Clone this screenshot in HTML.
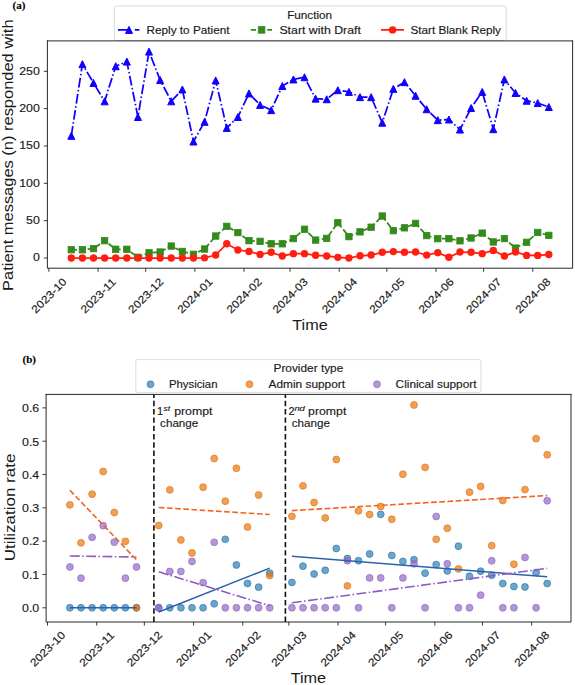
<!DOCTYPE html>
<html><head><meta charset="utf-8"><title>Utilization figure</title>
<style>
html,body{margin:0;padding:0;background:#fff;}
body{width:575px;height:685px;overflow:hidden;font-family:"Liberation Sans",sans-serif;}
svg{display:block;}
svg text{stroke:#1a1a1a;stroke-width:0.15px;}
</style></head><body>
<svg width="575" height="685" viewBox="0 0 575 685" font-family='"Liberation Sans", sans-serif' fill="#1a1a1a">
<rect width="575" height="685" fill="#fff"/>
<text x="12.6" y="8.9" font-family='"Liberation Serif", serif' font-weight="bold" font-size="11" fill="#000">(a)</text>
<text x="22.6" y="363" font-family='"Liberation Serif", serif' font-weight="bold" font-size="11" fill="#000">(b)</text>
<polyline points="71.3,258 82.41,258 93.51,258 104.61,258 115.72,258 126.83,258 137.93,258 149.03,258 160.14,258 171.25,258 182.35,258 193.45,258 204.56,257.85 215.67,255.01 226.77,243.81 237.88,250.01 248.98,251.43 260.08,254.42 271.19,252.32 282.3,255.98 293.4,253.67 304.5,253.67 315.61,255.31 326.72,255.98 337.82,257.33 348.93,258 360.03,255.76 371.14,255.01 382.24,252.32 393.35,251.58 404.45,252.32 415.56,252.03 426.66,255.09 437.77,252.7 448.87,257.25 459.98,252.03 471.08,252.32 482.19,253.67 493.29,250.53 504.4,255.98 515.5,252.03 526.61,255.39 537.71,255.39 548.82,254.56" fill="none" stroke="#ff1e10" stroke-width="1.75"/>
<polyline points="71.3,249.71 82.41,249.79 93.51,248.59 104.61,240.67 115.72,249.26 126.83,249.26 137.93,257.25 149.03,252.77 160.14,252.03 171.25,246.05 182.35,251.43 193.45,254.27 204.56,249.04 215.67,236.04 226.77,226.34 237.88,232.61 248.98,240.67 260.08,241.35 271.19,243.81 282.3,243.81 293.4,238.58 304.5,229.25 315.61,240.08 326.72,238.36 337.82,222.68 348.93,236.64 360.03,231.86 371.14,227.23 382.24,216.03 393.35,230.67 404.45,227.83 415.56,223.42 426.66,235.6 437.77,238.66 448.87,238.66 459.98,240.82 471.08,237.99 482.19,233.13 493.29,241.94 504.4,238.58 515.5,248.07 526.61,242.32 537.71,232.46 548.82,235.37" fill="none" stroke="#348a1c" stroke-width="1.75" stroke-dasharray="5.7 2.5"/>
<polyline points="71.3,135.82 82.41,64.13 93.51,82.95 104.61,101.32 115.72,66.22 126.83,61.59 137.93,117 149.03,51.58 160.14,80.04 171.25,101.32 182.35,89.45 193.45,141.5 204.56,121.78 215.67,80.41 226.77,127.91 237.88,117 248.98,93.41 260.08,104.91 271.19,110.13 282.3,86.01 293.4,79.44 304.5,77.27 315.61,98.63 326.72,99.23 337.82,90.19 348.93,91.91 360.03,97.14 371.14,97.14 382.24,122.68 393.35,88.85 404.45,82.13 415.56,95.72 426.66,109.24 437.77,120.14 448.87,119.47 459.98,129.55 471.08,108.04 482.19,91.91 493.29,129.18 504.4,79.44 515.5,92.96 526.61,100.72 537.71,103.04 548.82,107" fill="none" stroke="#1000ff" stroke-width="1.75" stroke-dasharray="9.8 2.5 1.5 2.5"/>
<polygon points="71.3,132.32 67.8,139.32 74.8,139.32" fill="#1000ff" stroke="#1000ff" stroke-width="1" stroke-linejoin="miter"/>
<polygon points="82.41,60.63 78.91,67.63 85.91,67.63" fill="#1000ff" stroke="#1000ff" stroke-width="1" stroke-linejoin="miter"/>
<polygon points="93.51,79.45 90.01,86.45 97.01,86.45" fill="#1000ff" stroke="#1000ff" stroke-width="1" stroke-linejoin="miter"/>
<polygon points="104.61,97.82 101.11,104.82 108.11,104.82" fill="#1000ff" stroke="#1000ff" stroke-width="1" stroke-linejoin="miter"/>
<polygon points="115.72,62.72 112.22,69.72 119.22,69.72" fill="#1000ff" stroke="#1000ff" stroke-width="1" stroke-linejoin="miter"/>
<polygon points="126.83,58.09 123.33,65.09 130.32,65.09" fill="#1000ff" stroke="#1000ff" stroke-width="1" stroke-linejoin="miter"/>
<polygon points="137.93,113.5 134.43,120.5 141.43,120.5" fill="#1000ff" stroke="#1000ff" stroke-width="1" stroke-linejoin="miter"/>
<polygon points="149.03,48.08 145.53,55.08 152.53,55.08" fill="#1000ff" stroke="#1000ff" stroke-width="1" stroke-linejoin="miter"/>
<polygon points="160.14,76.54 156.64,83.54 163.64,83.54" fill="#1000ff" stroke="#1000ff" stroke-width="1" stroke-linejoin="miter"/>
<polygon points="171.25,97.82 167.75,104.82 174.75,104.82" fill="#1000ff" stroke="#1000ff" stroke-width="1" stroke-linejoin="miter"/>
<polygon points="182.35,85.95 178.85,92.95 185.85,92.95" fill="#1000ff" stroke="#1000ff" stroke-width="1" stroke-linejoin="miter"/>
<polygon points="193.45,138 189.95,145 196.95,145" fill="#1000ff" stroke="#1000ff" stroke-width="1" stroke-linejoin="miter"/>
<polygon points="204.56,118.28 201.06,125.28 208.06,125.28" fill="#1000ff" stroke="#1000ff" stroke-width="1" stroke-linejoin="miter"/>
<polygon points="215.67,76.91 212.17,83.91 219.17,83.91" fill="#1000ff" stroke="#1000ff" stroke-width="1" stroke-linejoin="miter"/>
<polygon points="226.77,124.41 223.27,131.41 230.27,131.41" fill="#1000ff" stroke="#1000ff" stroke-width="1" stroke-linejoin="miter"/>
<polygon points="237.88,113.5 234.38,120.5 241.38,120.5" fill="#1000ff" stroke="#1000ff" stroke-width="1" stroke-linejoin="miter"/>
<polygon points="248.98,89.91 245.48,96.91 252.48,96.91" fill="#1000ff" stroke="#1000ff" stroke-width="1" stroke-linejoin="miter"/>
<polygon points="260.08,101.41 256.58,108.41 263.58,108.41" fill="#1000ff" stroke="#1000ff" stroke-width="1" stroke-linejoin="miter"/>
<polygon points="271.19,106.63 267.69,113.63 274.69,113.63" fill="#1000ff" stroke="#1000ff" stroke-width="1" stroke-linejoin="miter"/>
<polygon points="282.3,82.51 278.8,89.51 285.8,89.51" fill="#1000ff" stroke="#1000ff" stroke-width="1" stroke-linejoin="miter"/>
<polygon points="293.4,75.94 289.9,82.94 296.9,82.94" fill="#1000ff" stroke="#1000ff" stroke-width="1" stroke-linejoin="miter"/>
<polygon points="304.5,73.77 301,80.77 308,80.77" fill="#1000ff" stroke="#1000ff" stroke-width="1" stroke-linejoin="miter"/>
<polygon points="315.61,95.13 312.11,102.13 319.11,102.13" fill="#1000ff" stroke="#1000ff" stroke-width="1" stroke-linejoin="miter"/>
<polygon points="326.72,95.73 323.22,102.73 330.22,102.73" fill="#1000ff" stroke="#1000ff" stroke-width="1" stroke-linejoin="miter"/>
<polygon points="337.82,86.69 334.32,93.69 341.32,93.69" fill="#1000ff" stroke="#1000ff" stroke-width="1" stroke-linejoin="miter"/>
<polygon points="348.93,88.41 345.43,95.41 352.43,95.41" fill="#1000ff" stroke="#1000ff" stroke-width="1" stroke-linejoin="miter"/>
<polygon points="360.03,93.64 356.53,100.64 363.53,100.64" fill="#1000ff" stroke="#1000ff" stroke-width="1" stroke-linejoin="miter"/>
<polygon points="371.14,93.64 367.64,100.64 374.64,100.64" fill="#1000ff" stroke="#1000ff" stroke-width="1" stroke-linejoin="miter"/>
<polygon points="382.24,119.18 378.74,126.18 385.74,126.18" fill="#1000ff" stroke="#1000ff" stroke-width="1" stroke-linejoin="miter"/>
<polygon points="393.35,85.35 389.85,92.35 396.85,92.35" fill="#1000ff" stroke="#1000ff" stroke-width="1" stroke-linejoin="miter"/>
<polygon points="404.45,78.63 400.95,85.63 407.95,85.63" fill="#1000ff" stroke="#1000ff" stroke-width="1" stroke-linejoin="miter"/>
<polygon points="415.56,92.22 412.06,99.22 419.06,99.22" fill="#1000ff" stroke="#1000ff" stroke-width="1" stroke-linejoin="miter"/>
<polygon points="426.66,105.74 423.16,112.74 430.16,112.74" fill="#1000ff" stroke="#1000ff" stroke-width="1" stroke-linejoin="miter"/>
<polygon points="437.77,116.64 434.27,123.64 441.27,123.64" fill="#1000ff" stroke="#1000ff" stroke-width="1" stroke-linejoin="miter"/>
<polygon points="448.87,115.97 445.37,122.97 452.37,122.97" fill="#1000ff" stroke="#1000ff" stroke-width="1" stroke-linejoin="miter"/>
<polygon points="459.98,126.05 456.48,133.05 463.48,133.05" fill="#1000ff" stroke="#1000ff" stroke-width="1" stroke-linejoin="miter"/>
<polygon points="471.08,104.54 467.58,111.54 474.58,111.54" fill="#1000ff" stroke="#1000ff" stroke-width="1" stroke-linejoin="miter"/>
<polygon points="482.19,88.41 478.69,95.41 485.69,95.41" fill="#1000ff" stroke="#1000ff" stroke-width="1" stroke-linejoin="miter"/>
<polygon points="493.29,125.68 489.79,132.68 496.79,132.68" fill="#1000ff" stroke="#1000ff" stroke-width="1" stroke-linejoin="miter"/>
<polygon points="504.4,75.94 500.9,82.94 507.9,82.94" fill="#1000ff" stroke="#1000ff" stroke-width="1" stroke-linejoin="miter"/>
<polygon points="515.5,89.46 512,96.46 519,96.46" fill="#1000ff" stroke="#1000ff" stroke-width="1" stroke-linejoin="miter"/>
<polygon points="526.61,97.22 523.11,104.22 530.11,104.22" fill="#1000ff" stroke="#1000ff" stroke-width="1" stroke-linejoin="miter"/>
<polygon points="537.71,99.54 534.21,106.54 541.21,106.54" fill="#1000ff" stroke="#1000ff" stroke-width="1" stroke-linejoin="miter"/>
<polygon points="548.82,103.5 545.32,110.5 552.32,110.5" fill="#1000ff" stroke="#1000ff" stroke-width="1" stroke-linejoin="miter"/>
<rect x="68.1" y="246.51" width="6.4" height="6.4" fill="#348a1c" stroke="#348a1c" stroke-width="0.8"/>
<rect x="79.2" y="246.59" width="6.4" height="6.4" fill="#348a1c" stroke="#348a1c" stroke-width="0.8"/>
<rect x="90.31" y="245.39" width="6.4" height="6.4" fill="#348a1c" stroke="#348a1c" stroke-width="0.8"/>
<rect x="101.41" y="237.47" width="6.4" height="6.4" fill="#348a1c" stroke="#348a1c" stroke-width="0.8"/>
<rect x="112.52" y="246.06" width="6.4" height="6.4" fill="#348a1c" stroke="#348a1c" stroke-width="0.8"/>
<rect x="123.62" y="246.06" width="6.4" height="6.4" fill="#348a1c" stroke="#348a1c" stroke-width="0.8"/>
<rect x="134.73" y="254.05" width="6.4" height="6.4" fill="#348a1c" stroke="#348a1c" stroke-width="0.8"/>
<rect x="145.84" y="249.57" width="6.4" height="6.4" fill="#348a1c" stroke="#348a1c" stroke-width="0.8"/>
<rect x="156.94" y="248.83" width="6.4" height="6.4" fill="#348a1c" stroke="#348a1c" stroke-width="0.8"/>
<rect x="168.05" y="242.85" width="6.4" height="6.4" fill="#348a1c" stroke="#348a1c" stroke-width="0.8"/>
<rect x="179.15" y="248.23" width="6.4" height="6.4" fill="#348a1c" stroke="#348a1c" stroke-width="0.8"/>
<rect x="190.25" y="251.07" width="6.4" height="6.4" fill="#348a1c" stroke="#348a1c" stroke-width="0.8"/>
<rect x="201.36" y="245.84" width="6.4" height="6.4" fill="#348a1c" stroke="#348a1c" stroke-width="0.8"/>
<rect x="212.47" y="232.84" width="6.4" height="6.4" fill="#348a1c" stroke="#348a1c" stroke-width="0.8"/>
<rect x="223.57" y="223.14" width="6.4" height="6.4" fill="#348a1c" stroke="#348a1c" stroke-width="0.8"/>
<rect x="234.68" y="229.41" width="6.4" height="6.4" fill="#348a1c" stroke="#348a1c" stroke-width="0.8"/>
<rect x="245.78" y="237.47" width="6.4" height="6.4" fill="#348a1c" stroke="#348a1c" stroke-width="0.8"/>
<rect x="256.88" y="238.15" width="6.4" height="6.4" fill="#348a1c" stroke="#348a1c" stroke-width="0.8"/>
<rect x="267.99" y="240.61" width="6.4" height="6.4" fill="#348a1c" stroke="#348a1c" stroke-width="0.8"/>
<rect x="279.1" y="240.61" width="6.4" height="6.4" fill="#348a1c" stroke="#348a1c" stroke-width="0.8"/>
<rect x="290.2" y="235.38" width="6.4" height="6.4" fill="#348a1c" stroke="#348a1c" stroke-width="0.8"/>
<rect x="301.31" y="226.05" width="6.4" height="6.4" fill="#348a1c" stroke="#348a1c" stroke-width="0.8"/>
<rect x="312.41" y="236.88" width="6.4" height="6.4" fill="#348a1c" stroke="#348a1c" stroke-width="0.8"/>
<rect x="323.52" y="235.16" width="6.4" height="6.4" fill="#348a1c" stroke="#348a1c" stroke-width="0.8"/>
<rect x="334.62" y="219.48" width="6.4" height="6.4" fill="#348a1c" stroke="#348a1c" stroke-width="0.8"/>
<rect x="345.73" y="233.44" width="6.4" height="6.4" fill="#348a1c" stroke="#348a1c" stroke-width="0.8"/>
<rect x="356.83" y="228.66" width="6.4" height="6.4" fill="#348a1c" stroke="#348a1c" stroke-width="0.8"/>
<rect x="367.94" y="224.03" width="6.4" height="6.4" fill="#348a1c" stroke="#348a1c" stroke-width="0.8"/>
<rect x="379.04" y="212.83" width="6.4" height="6.4" fill="#348a1c" stroke="#348a1c" stroke-width="0.8"/>
<rect x="390.15" y="227.47" width="6.4" height="6.4" fill="#348a1c" stroke="#348a1c" stroke-width="0.8"/>
<rect x="401.25" y="224.63" width="6.4" height="6.4" fill="#348a1c" stroke="#348a1c" stroke-width="0.8"/>
<rect x="412.36" y="220.22" width="6.4" height="6.4" fill="#348a1c" stroke="#348a1c" stroke-width="0.8"/>
<rect x="423.46" y="232.4" width="6.4" height="6.4" fill="#348a1c" stroke="#348a1c" stroke-width="0.8"/>
<rect x="434.57" y="235.46" width="6.4" height="6.4" fill="#348a1c" stroke="#348a1c" stroke-width="0.8"/>
<rect x="445.67" y="235.46" width="6.4" height="6.4" fill="#348a1c" stroke="#348a1c" stroke-width="0.8"/>
<rect x="456.78" y="237.62" width="6.4" height="6.4" fill="#348a1c" stroke="#348a1c" stroke-width="0.8"/>
<rect x="467.88" y="234.79" width="6.4" height="6.4" fill="#348a1c" stroke="#348a1c" stroke-width="0.8"/>
<rect x="478.99" y="229.93" width="6.4" height="6.4" fill="#348a1c" stroke="#348a1c" stroke-width="0.8"/>
<rect x="490.09" y="238.74" width="6.4" height="6.4" fill="#348a1c" stroke="#348a1c" stroke-width="0.8"/>
<rect x="501.2" y="235.38" width="6.4" height="6.4" fill="#348a1c" stroke="#348a1c" stroke-width="0.8"/>
<rect x="512.3" y="244.87" width="6.4" height="6.4" fill="#348a1c" stroke="#348a1c" stroke-width="0.8"/>
<rect x="523.4" y="239.12" width="6.4" height="6.4" fill="#348a1c" stroke="#348a1c" stroke-width="0.8"/>
<rect x="534.51" y="229.26" width="6.4" height="6.4" fill="#348a1c" stroke="#348a1c" stroke-width="0.8"/>
<rect x="545.62" y="232.17" width="6.4" height="6.4" fill="#348a1c" stroke="#348a1c" stroke-width="0.8"/>
<circle cx="71.3" cy="258" r="3.7" fill="#ff1e10"/>
<circle cx="82.41" cy="258" r="3.7" fill="#ff1e10"/>
<circle cx="93.51" cy="258" r="3.7" fill="#ff1e10"/>
<circle cx="104.61" cy="258" r="3.7" fill="#ff1e10"/>
<circle cx="115.72" cy="258" r="3.7" fill="#ff1e10"/>
<circle cx="126.83" cy="258" r="3.7" fill="#ff1e10"/>
<circle cx="137.93" cy="258" r="3.7" fill="#ff1e10"/>
<circle cx="149.03" cy="258" r="3.7" fill="#ff1e10"/>
<circle cx="160.14" cy="258" r="3.7" fill="#ff1e10"/>
<circle cx="171.25" cy="258" r="3.7" fill="#ff1e10"/>
<circle cx="182.35" cy="258" r="3.7" fill="#ff1e10"/>
<circle cx="193.45" cy="258" r="3.7" fill="#ff1e10"/>
<circle cx="204.56" cy="257.85" r="3.7" fill="#ff1e10"/>
<circle cx="215.67" cy="255.01" r="3.7" fill="#ff1e10"/>
<circle cx="226.77" cy="243.81" r="3.7" fill="#ff1e10"/>
<circle cx="237.88" cy="250.01" r="3.7" fill="#ff1e10"/>
<circle cx="248.98" cy="251.43" r="3.7" fill="#ff1e10"/>
<circle cx="260.08" cy="254.42" r="3.7" fill="#ff1e10"/>
<circle cx="271.19" cy="252.32" r="3.7" fill="#ff1e10"/>
<circle cx="282.3" cy="255.98" r="3.7" fill="#ff1e10"/>
<circle cx="293.4" cy="253.67" r="3.7" fill="#ff1e10"/>
<circle cx="304.5" cy="253.67" r="3.7" fill="#ff1e10"/>
<circle cx="315.61" cy="255.31" r="3.7" fill="#ff1e10"/>
<circle cx="326.72" cy="255.98" r="3.7" fill="#ff1e10"/>
<circle cx="337.82" cy="257.33" r="3.7" fill="#ff1e10"/>
<circle cx="348.93" cy="258" r="3.7" fill="#ff1e10"/>
<circle cx="360.03" cy="255.76" r="3.7" fill="#ff1e10"/>
<circle cx="371.14" cy="255.01" r="3.7" fill="#ff1e10"/>
<circle cx="382.24" cy="252.32" r="3.7" fill="#ff1e10"/>
<circle cx="393.35" cy="251.58" r="3.7" fill="#ff1e10"/>
<circle cx="404.45" cy="252.32" r="3.7" fill="#ff1e10"/>
<circle cx="415.56" cy="252.03" r="3.7" fill="#ff1e10"/>
<circle cx="426.66" cy="255.09" r="3.7" fill="#ff1e10"/>
<circle cx="437.77" cy="252.7" r="3.7" fill="#ff1e10"/>
<circle cx="448.87" cy="257.25" r="3.7" fill="#ff1e10"/>
<circle cx="459.98" cy="252.03" r="3.7" fill="#ff1e10"/>
<circle cx="471.08" cy="252.32" r="3.7" fill="#ff1e10"/>
<circle cx="482.19" cy="253.67" r="3.7" fill="#ff1e10"/>
<circle cx="493.29" cy="250.53" r="3.7" fill="#ff1e10"/>
<circle cx="504.4" cy="255.98" r="3.7" fill="#ff1e10"/>
<circle cx="515.5" cy="252.03" r="3.7" fill="#ff1e10"/>
<circle cx="526.61" cy="255.39" r="3.7" fill="#ff1e10"/>
<circle cx="537.71" cy="255.39" r="3.7" fill="#ff1e10"/>
<circle cx="548.82" cy="254.56" r="3.7" fill="#ff1e10"/>
<polyline points="47.4,40.45 47.4,268.2 572.6,268.2 572.6,40.45" fill="none" stroke="#111" stroke-width="0.9" stroke-linejoin="miter"/>
<line x1="43.8" y1="258" x2="47.4" y2="258" stroke="#222" stroke-width="0.9"/>
<text x="39.8" y="261.4" text-anchor="end" font-size="11" textLength="6.87" lengthAdjust="spacingAndGlyphs">0</text>
<line x1="43.8" y1="220.66" x2="47.4" y2="220.66" stroke="#222" stroke-width="0.9"/>
<text x="39.8" y="224.06" text-anchor="end" font-size="11" textLength="13.74" lengthAdjust="spacingAndGlyphs">50</text>
<line x1="43.8" y1="183.32" x2="47.4" y2="183.32" stroke="#222" stroke-width="0.9"/>
<text x="39.8" y="186.72" text-anchor="end" font-size="11" textLength="20.61" lengthAdjust="spacingAndGlyphs">100</text>
<line x1="43.8" y1="145.98" x2="47.4" y2="145.98" stroke="#222" stroke-width="0.9"/>
<text x="39.8" y="149.38" text-anchor="end" font-size="11" textLength="20.61" lengthAdjust="spacingAndGlyphs">150</text>
<line x1="43.8" y1="108.64" x2="47.4" y2="108.64" stroke="#222" stroke-width="0.9"/>
<text x="39.8" y="112.04" text-anchor="end" font-size="11" textLength="20.61" lengthAdjust="spacingAndGlyphs">200</text>
<line x1="43.8" y1="71.3" x2="47.4" y2="71.3" stroke="#222" stroke-width="0.9"/>
<text x="39.8" y="74.7" text-anchor="end" font-size="11" textLength="20.61" lengthAdjust="spacingAndGlyphs">250</text>
<line x1="48.9" y1="268.2" x2="48.9" y2="271.8" stroke="#222" stroke-width="0.9"/>
<text x="48.9" y="299.45" text-anchor="middle" font-size="10.7" textLength="44.6" lengthAdjust="spacingAndGlyphs" transform="rotate(-45 48.9 295.6)">2023-10</text>
<line x1="98.08" y1="268.2" x2="98.08" y2="271.8" stroke="#222" stroke-width="0.9"/>
<text x="98.08" y="299.45" text-anchor="middle" font-size="10.7" textLength="44.6" lengthAdjust="spacingAndGlyphs" transform="rotate(-45 98.08 295.6)">2023-11</text>
<line x1="145.68" y1="268.2" x2="145.68" y2="271.8" stroke="#222" stroke-width="0.9"/>
<text x="145.68" y="299.45" text-anchor="middle" font-size="10.7" textLength="44.6" lengthAdjust="spacingAndGlyphs" transform="rotate(-45 145.68 295.6)">2023-12</text>
<line x1="194.86" y1="268.2" x2="194.86" y2="271.8" stroke="#222" stroke-width="0.9"/>
<text x="194.86" y="299.45" text-anchor="middle" font-size="10.7" textLength="44.6" lengthAdjust="spacingAndGlyphs" transform="rotate(-45 194.86 295.6)">2024-01</text>
<line x1="244.04" y1="268.2" x2="244.04" y2="271.8" stroke="#222" stroke-width="0.9"/>
<text x="244.04" y="299.45" text-anchor="middle" font-size="10.7" textLength="44.6" lengthAdjust="spacingAndGlyphs" transform="rotate(-45 244.04 295.6)">2024-02</text>
<line x1="290.05" y1="268.2" x2="290.05" y2="271.8" stroke="#222" stroke-width="0.9"/>
<text x="290.05" y="299.45" text-anchor="middle" font-size="10.7" textLength="44.6" lengthAdjust="spacingAndGlyphs" transform="rotate(-45 290.05 295.6)">2024-03</text>
<line x1="339.23" y1="268.2" x2="339.23" y2="271.8" stroke="#222" stroke-width="0.9"/>
<text x="339.23" y="299.45" text-anchor="middle" font-size="10.7" textLength="44.6" lengthAdjust="spacingAndGlyphs" transform="rotate(-45 339.23 295.6)">2024-04</text>
<line x1="386.82" y1="268.2" x2="386.82" y2="271.8" stroke="#222" stroke-width="0.9"/>
<text x="386.82" y="299.45" text-anchor="middle" font-size="10.7" textLength="44.6" lengthAdjust="spacingAndGlyphs" transform="rotate(-45 386.82 295.6)">2024-05</text>
<line x1="436.01" y1="268.2" x2="436.01" y2="271.8" stroke="#222" stroke-width="0.9"/>
<text x="436.01" y="299.45" text-anchor="middle" font-size="10.7" textLength="44.6" lengthAdjust="spacingAndGlyphs" transform="rotate(-45 436.01 295.6)">2024-06</text>
<line x1="483.6" y1="268.2" x2="483.6" y2="271.8" stroke="#222" stroke-width="0.9"/>
<text x="483.6" y="299.45" text-anchor="middle" font-size="10.7" textLength="44.6" lengthAdjust="spacingAndGlyphs" transform="rotate(-45 483.6 295.6)">2024-07</text>
<line x1="532.78" y1="268.2" x2="532.78" y2="271.8" stroke="#222" stroke-width="0.9"/>
<text x="532.78" y="299.45" text-anchor="middle" font-size="10.7" textLength="44.6" lengthAdjust="spacingAndGlyphs" transform="rotate(-45 532.78 295.6)">2024-08</text>
<text x="310" y="329.5" text-anchor="middle" style="stroke:none" font-size="14.6" textLength="35.5" lengthAdjust="spacingAndGlyphs">Time</text>
<text transform="translate(12.9 155.2) rotate(-90)" text-anchor="middle" style="stroke:none" font-size="15.2" textLength="271.5" lengthAdjust="spacingAndGlyphs">Patient messages (n) responded with</text>
<rect x="114.3" y="6.0" width="391.9" height="34.4" rx="1.5" fill="#fff" fill-opacity="0.8" stroke="#d6d6d6" stroke-width="0.9"/>
<text x="309.6" y="18.6" text-anchor="middle" font-size="10.4" textLength="44.8" lengthAdjust="spacingAndGlyphs">Function</text>
<line x1="118" y1="29.9" x2="128.5" y2="29.9" stroke="#1000ff" stroke-width="1.75"/>
<line x1="134.8" y1="29.9" x2="139.4" y2="29.9" stroke="#1000ff" stroke-width="1.75"/>
<polygon points="129,26.4 125.5,33.4 132.5,33.4" fill="#1000ff" stroke="#1000ff" stroke-width="1"/>
<text x="146.4" y="34" font-size="10.4" textLength="83.2" lengthAdjust="spacingAndGlyphs">Reply to Patient</text>
<line x1="250.8" y1="29.9" x2="256" y2="29.9" stroke="#348a1c" stroke-width="1.75"/>
<line x1="267.2" y1="29.9" x2="272" y2="29.9" stroke="#348a1c" stroke-width="1.75"/>
<rect x="258.3" y="26.6" width="6.6" height="6.6" fill="#348a1c" stroke="#348a1c" stroke-width="0.8"/>
<text x="279.4" y="34" font-size="10.4" textLength="81.5" lengthAdjust="spacingAndGlyphs">Start with Draft</text>
<line x1="381" y1="29.9" x2="404" y2="29.9" stroke="#ff1e10" stroke-width="1.75"/>
<circle cx="392.6" cy="29.9" r="3.7" fill="#ff1e10"/>
<text x="410.4" y="34" font-size="10.4" textLength="90.6" lengthAdjust="spacingAndGlyphs">Start Blank Reply</text>
<line x1="46.95" y1="40.9" x2="573.05" y2="40.9" stroke="#111" stroke-width="0.9"/>
<line x1="153.9" y1="622" x2="153.9" y2="394.4" stroke="#111" stroke-width="1.6" stroke-dasharray="5.4 2.9"/>
<line x1="285.4" y1="622" x2="285.4" y2="394.4" stroke="#111" stroke-width="1.6" stroke-dasharray="5.4 2.9"/>
<circle cx="69.9" cy="607.8" r="3.45" fill="#307eb0" fill-opacity="0.7" stroke="#307eb0" stroke-opacity="0.7" stroke-width="1"/>
<circle cx="81" cy="607.8" r="3.45" fill="#307eb0" fill-opacity="0.7" stroke="#307eb0" stroke-opacity="0.7" stroke-width="1"/>
<circle cx="92.1" cy="607.8" r="3.45" fill="#307eb0" fill-opacity="0.7" stroke="#307eb0" stroke-opacity="0.7" stroke-width="1"/>
<circle cx="103.2" cy="607.8" r="3.45" fill="#307eb0" fill-opacity="0.7" stroke="#307eb0" stroke-opacity="0.7" stroke-width="1"/>
<circle cx="114.3" cy="607.8" r="3.45" fill="#307eb0" fill-opacity="0.7" stroke="#307eb0" stroke-opacity="0.7" stroke-width="1"/>
<circle cx="125.4" cy="607.8" r="3.45" fill="#307eb0" fill-opacity="0.7" stroke="#307eb0" stroke-opacity="0.7" stroke-width="1"/>
<circle cx="136.5" cy="607.8" r="3.45" fill="#307eb0" fill-opacity="0.7" stroke="#307eb0" stroke-opacity="0.7" stroke-width="1"/>
<circle cx="158.7" cy="607.8" r="3.45" fill="#307eb0" fill-opacity="0.7" stroke="#307eb0" stroke-opacity="0.7" stroke-width="1"/>
<circle cx="169.8" cy="607.8" r="3.45" fill="#307eb0" fill-opacity="0.7" stroke="#307eb0" stroke-opacity="0.7" stroke-width="1"/>
<circle cx="180.9" cy="607.8" r="3.45" fill="#307eb0" fill-opacity="0.7" stroke="#307eb0" stroke-opacity="0.7" stroke-width="1"/>
<circle cx="192" cy="607.8" r="3.45" fill="#307eb0" fill-opacity="0.7" stroke="#307eb0" stroke-opacity="0.7" stroke-width="1"/>
<circle cx="203.1" cy="607.8" r="3.45" fill="#307eb0" fill-opacity="0.7" stroke="#307eb0" stroke-opacity="0.7" stroke-width="1"/>
<circle cx="214.2" cy="603.8" r="3.45" fill="#307eb0" fill-opacity="0.7" stroke="#307eb0" stroke-opacity="0.7" stroke-width="1"/>
<circle cx="225.3" cy="539.33" r="3.45" fill="#307eb0" fill-opacity="0.7" stroke="#307eb0" stroke-opacity="0.7" stroke-width="1"/>
<circle cx="236.4" cy="564.98" r="3.45" fill="#307eb0" fill-opacity="0.7" stroke="#307eb0" stroke-opacity="0.7" stroke-width="1"/>
<circle cx="247.5" cy="583.48" r="3.45" fill="#307eb0" fill-opacity="0.7" stroke="#307eb0" stroke-opacity="0.7" stroke-width="1"/>
<circle cx="258.6" cy="587.14" r="3.45" fill="#307eb0" fill-opacity="0.7" stroke="#307eb0" stroke-opacity="0.7" stroke-width="1"/>
<circle cx="269.7" cy="573.15" r="3.45" fill="#307eb0" fill-opacity="0.7" stroke="#307eb0" stroke-opacity="0.7" stroke-width="1"/>
<circle cx="291.9" cy="582.44" r="3.45" fill="#307eb0" fill-opacity="0.7" stroke="#307eb0" stroke-opacity="0.7" stroke-width="1"/>
<circle cx="303" cy="566.15" r="3.45" fill="#307eb0" fill-opacity="0.7" stroke="#307eb0" stroke-opacity="0.7" stroke-width="1"/>
<circle cx="314.1" cy="574.01" r="3.45" fill="#307eb0" fill-opacity="0.7" stroke="#307eb0" stroke-opacity="0.7" stroke-width="1"/>
<circle cx="325.2" cy="570.31" r="3.45" fill="#307eb0" fill-opacity="0.7" stroke="#307eb0" stroke-opacity="0.7" stroke-width="1"/>
<circle cx="336.3" cy="548.49" r="3.45" fill="#307eb0" fill-opacity="0.7" stroke="#307eb0" stroke-opacity="0.7" stroke-width="1"/>
<circle cx="347.4" cy="558.55" r="3.45" fill="#307eb0" fill-opacity="0.7" stroke="#307eb0" stroke-opacity="0.7" stroke-width="1"/>
<circle cx="358.5" cy="560.69" r="3.45" fill="#307eb0" fill-opacity="0.7" stroke="#307eb0" stroke-opacity="0.7" stroke-width="1"/>
<circle cx="369.6" cy="553.95" r="3.45" fill="#307eb0" fill-opacity="0.7" stroke="#307eb0" stroke-opacity="0.7" stroke-width="1"/>
<circle cx="380.7" cy="514.34" r="3.45" fill="#307eb0" fill-opacity="0.7" stroke="#307eb0" stroke-opacity="0.7" stroke-width="1"/>
<circle cx="391.8" cy="555.49" r="3.45" fill="#307eb0" fill-opacity="0.7" stroke="#307eb0" stroke-opacity="0.7" stroke-width="1"/>
<circle cx="402.9" cy="561.49" r="3.45" fill="#307eb0" fill-opacity="0.7" stroke="#307eb0" stroke-opacity="0.7" stroke-width="1"/>
<circle cx="414" cy="559.69" r="3.45" fill="#307eb0" fill-opacity="0.7" stroke="#307eb0" stroke-opacity="0.7" stroke-width="1"/>
<circle cx="425.1" cy="573.15" r="3.45" fill="#307eb0" fill-opacity="0.7" stroke="#307eb0" stroke-opacity="0.7" stroke-width="1"/>
<circle cx="436.2" cy="564.58" r="3.45" fill="#307eb0" fill-opacity="0.7" stroke="#307eb0" stroke-opacity="0.7" stroke-width="1"/>
<circle cx="447.3" cy="570.91" r="3.45" fill="#307eb0" fill-opacity="0.7" stroke="#307eb0" stroke-opacity="0.7" stroke-width="1"/>
<circle cx="458.4" cy="546.22" r="3.45" fill="#307eb0" fill-opacity="0.7" stroke="#307eb0" stroke-opacity="0.7" stroke-width="1"/>
<circle cx="469.5" cy="576.31" r="3.45" fill="#307eb0" fill-opacity="0.7" stroke="#307eb0" stroke-opacity="0.7" stroke-width="1"/>
<circle cx="480.6" cy="571.21" r="3.45" fill="#307eb0" fill-opacity="0.7" stroke="#307eb0" stroke-opacity="0.7" stroke-width="1"/>
<circle cx="491.7" cy="575.21" r="3.45" fill="#307eb0" fill-opacity="0.7" stroke="#307eb0" stroke-opacity="0.7" stroke-width="1"/>
<circle cx="502.8" cy="583.54" r="3.45" fill="#307eb0" fill-opacity="0.7" stroke="#307eb0" stroke-opacity="0.7" stroke-width="1"/>
<circle cx="513.9" cy="586.54" r="3.45" fill="#307eb0" fill-opacity="0.7" stroke="#307eb0" stroke-opacity="0.7" stroke-width="1"/>
<circle cx="525" cy="586.94" r="3.45" fill="#307eb0" fill-opacity="0.7" stroke="#307eb0" stroke-opacity="0.7" stroke-width="1"/>
<circle cx="536.1" cy="572.61" r="3.45" fill="#307eb0" fill-opacity="0.7" stroke="#307eb0" stroke-opacity="0.7" stroke-width="1"/>
<circle cx="547.2" cy="583.54" r="3.45" fill="#307eb0" fill-opacity="0.7" stroke="#307eb0" stroke-opacity="0.7" stroke-width="1"/>
<circle cx="69.9" cy="504.84" r="3.45" fill="#e57710" fill-opacity="0.7" stroke="#e57710" stroke-opacity="0.7" stroke-width="1"/>
<circle cx="81" cy="542.83" r="3.45" fill="#e57710" fill-opacity="0.7" stroke="#e57710" stroke-opacity="0.7" stroke-width="1"/>
<circle cx="92.1" cy="494.18" r="3.45" fill="#e57710" fill-opacity="0.7" stroke="#e57710" stroke-opacity="0.7" stroke-width="1"/>
<circle cx="103.2" cy="471.52" r="3.45" fill="#e57710" fill-opacity="0.7" stroke="#e57710" stroke-opacity="0.7" stroke-width="1"/>
<circle cx="114.3" cy="512.5" r="3.45" fill="#e57710" fill-opacity="0.7" stroke="#e57710" stroke-opacity="0.7" stroke-width="1"/>
<circle cx="125.4" cy="541.33" r="3.45" fill="#e57710" fill-opacity="0.7" stroke="#e57710" stroke-opacity="0.7" stroke-width="1"/>
<circle cx="136.5" cy="607.8" r="3.45" fill="#e57710" fill-opacity="0.7" stroke="#e57710" stroke-opacity="0.7" stroke-width="1"/>
<circle cx="158.7" cy="525.5" r="3.45" fill="#e57710" fill-opacity="0.7" stroke="#e57710" stroke-opacity="0.7" stroke-width="1"/>
<circle cx="169.8" cy="489.85" r="3.45" fill="#e57710" fill-opacity="0.7" stroke="#e57710" stroke-opacity="0.7" stroke-width="1"/>
<circle cx="180.9" cy="539.93" r="3.45" fill="#e57710" fill-opacity="0.7" stroke="#e57710" stroke-opacity="0.7" stroke-width="1"/>
<circle cx="192" cy="552.96" r="3.45" fill="#e57710" fill-opacity="0.7" stroke="#e57710" stroke-opacity="0.7" stroke-width="1"/>
<circle cx="203.1" cy="487.18" r="3.45" fill="#e57710" fill-opacity="0.7" stroke="#e57710" stroke-opacity="0.7" stroke-width="1"/>
<circle cx="214.2" cy="458.53" r="3.45" fill="#e57710" fill-opacity="0.7" stroke="#e57710" stroke-opacity="0.7" stroke-width="1"/>
<circle cx="225.3" cy="501.18" r="3.45" fill="#e57710" fill-opacity="0.7" stroke="#e57710" stroke-opacity="0.7" stroke-width="1"/>
<circle cx="236.4" cy="468.32" r="3.45" fill="#e57710" fill-opacity="0.7" stroke="#e57710" stroke-opacity="0.7" stroke-width="1"/>
<circle cx="247.5" cy="527.07" r="3.45" fill="#e57710" fill-opacity="0.7" stroke="#e57710" stroke-opacity="0.7" stroke-width="1"/>
<circle cx="258.6" cy="494.98" r="3.45" fill="#e57710" fill-opacity="0.7" stroke="#e57710" stroke-opacity="0.7" stroke-width="1"/>
<circle cx="269.7" cy="575.61" r="3.45" fill="#e57710" fill-opacity="0.7" stroke="#e57710" stroke-opacity="0.7" stroke-width="1"/>
<circle cx="291.9" cy="516.34" r="3.45" fill="#e57710" fill-opacity="0.7" stroke="#e57710" stroke-opacity="0.7" stroke-width="1"/>
<circle cx="303" cy="485.85" r="3.45" fill="#e57710" fill-opacity="0.7" stroke="#e57710" stroke-opacity="0.7" stroke-width="1"/>
<circle cx="314.1" cy="502.51" r="3.45" fill="#e57710" fill-opacity="0.7" stroke="#e57710" stroke-opacity="0.7" stroke-width="1"/>
<circle cx="325.2" cy="517.94" r="3.45" fill="#e57710" fill-opacity="0.7" stroke="#e57710" stroke-opacity="0.7" stroke-width="1"/>
<circle cx="336.3" cy="459.53" r="3.45" fill="#e57710" fill-opacity="0.7" stroke="#e57710" stroke-opacity="0.7" stroke-width="1"/>
<circle cx="347.4" cy="585.84" r="3.45" fill="#e57710" fill-opacity="0.7" stroke="#e57710" stroke-opacity="0.7" stroke-width="1"/>
<circle cx="358.5" cy="510.84" r="3.45" fill="#e57710" fill-opacity="0.7" stroke="#e57710" stroke-opacity="0.7" stroke-width="1"/>
<circle cx="369.6" cy="514.5" r="3.45" fill="#e57710" fill-opacity="0.7" stroke="#e57710" stroke-opacity="0.7" stroke-width="1"/>
<circle cx="380.7" cy="506.51" r="3.45" fill="#e57710" fill-opacity="0.7" stroke="#e57710" stroke-opacity="0.7" stroke-width="1"/>
<circle cx="391.8" cy="519.27" r="3.45" fill="#e57710" fill-opacity="0.7" stroke="#e57710" stroke-opacity="0.7" stroke-width="1"/>
<circle cx="402.9" cy="474.25" r="3.45" fill="#e57710" fill-opacity="0.7" stroke="#e57710" stroke-opacity="0.7" stroke-width="1"/>
<circle cx="414" cy="405.01" r="3.45" fill="#e57710" fill-opacity="0.7" stroke="#e57710" stroke-opacity="0.7" stroke-width="1"/>
<circle cx="425.1" cy="467.42" r="3.45" fill="#e57710" fill-opacity="0.7" stroke="#e57710" stroke-opacity="0.7" stroke-width="1"/>
<circle cx="436.2" cy="539.33" r="3.45" fill="#e57710" fill-opacity="0.7" stroke="#e57710" stroke-opacity="0.7" stroke-width="1"/>
<circle cx="447.3" cy="528.3" r="3.45" fill="#e57710" fill-opacity="0.7" stroke="#e57710" stroke-opacity="0.7" stroke-width="1"/>
<circle cx="458.4" cy="568.92" r="3.45" fill="#e57710" fill-opacity="0.7" stroke="#e57710" stroke-opacity="0.7" stroke-width="1"/>
<circle cx="469.5" cy="492.18" r="3.45" fill="#e57710" fill-opacity="0.7" stroke="#e57710" stroke-opacity="0.7" stroke-width="1"/>
<circle cx="480.6" cy="486.38" r="3.45" fill="#e57710" fill-opacity="0.7" stroke="#e57710" stroke-opacity="0.7" stroke-width="1"/>
<circle cx="491.7" cy="545.62" r="3.45" fill="#e57710" fill-opacity="0.7" stroke="#e57710" stroke-opacity="0.7" stroke-width="1"/>
<circle cx="502.8" cy="500.51" r="3.45" fill="#e57710" fill-opacity="0.7" stroke="#e57710" stroke-opacity="0.7" stroke-width="1"/>
<circle cx="513.9" cy="564.28" r="3.45" fill="#e57710" fill-opacity="0.7" stroke="#e57710" stroke-opacity="0.7" stroke-width="1"/>
<circle cx="525" cy="489.58" r="3.45" fill="#e57710" fill-opacity="0.7" stroke="#e57710" stroke-opacity="0.7" stroke-width="1"/>
<circle cx="536.1" cy="438.63" r="3.45" fill="#e57710" fill-opacity="0.7" stroke="#e57710" stroke-opacity="0.7" stroke-width="1"/>
<circle cx="547.2" cy="454.79" r="3.45" fill="#e57710" fill-opacity="0.7" stroke="#e57710" stroke-opacity="0.7" stroke-width="1"/>
<circle cx="69.9" cy="566.98" r="3.45" fill="#9169c4" fill-opacity="0.7" stroke="#9169c4" stroke-opacity="0.7" stroke-width="1"/>
<circle cx="81" cy="578.15" r="3.45" fill="#9169c4" fill-opacity="0.7" stroke="#9169c4" stroke-opacity="0.7" stroke-width="1"/>
<circle cx="92.1" cy="537.33" r="3.45" fill="#9169c4" fill-opacity="0.7" stroke="#9169c4" stroke-opacity="0.7" stroke-width="1"/>
<circle cx="103.2" cy="525.67" r="3.45" fill="#9169c4" fill-opacity="0.7" stroke="#9169c4" stroke-opacity="0.7" stroke-width="1"/>
<circle cx="114.3" cy="542.16" r="3.45" fill="#9169c4" fill-opacity="0.7" stroke="#9169c4" stroke-opacity="0.7" stroke-width="1"/>
<circle cx="125.4" cy="578.15" r="3.45" fill="#9169c4" fill-opacity="0.7" stroke="#9169c4" stroke-opacity="0.7" stroke-width="1"/>
<circle cx="136.5" cy="566.98" r="3.45" fill="#9169c4" fill-opacity="0.7" stroke="#9169c4" stroke-opacity="0.7" stroke-width="1"/>
<circle cx="158.7" cy="607.8" r="3.45" fill="#9169c4" fill-opacity="0.7" stroke="#9169c4" stroke-opacity="0.7" stroke-width="1"/>
<circle cx="169.8" cy="571.48" r="3.45" fill="#9169c4" fill-opacity="0.7" stroke="#9169c4" stroke-opacity="0.7" stroke-width="1"/>
<circle cx="180.9" cy="571.48" r="3.45" fill="#9169c4" fill-opacity="0.7" stroke="#9169c4" stroke-opacity="0.7" stroke-width="1"/>
<circle cx="192" cy="561.49" r="3.45" fill="#9169c4" fill-opacity="0.7" stroke="#9169c4" stroke-opacity="0.7" stroke-width="1"/>
<circle cx="203.1" cy="582.64" r="3.45" fill="#9169c4" fill-opacity="0.7" stroke="#9169c4" stroke-opacity="0.7" stroke-width="1"/>
<circle cx="214.2" cy="542.33" r="3.45" fill="#9169c4" fill-opacity="0.7" stroke="#9169c4" stroke-opacity="0.7" stroke-width="1"/>
<circle cx="225.3" cy="607.8" r="3.45" fill="#9169c4" fill-opacity="0.7" stroke="#9169c4" stroke-opacity="0.7" stroke-width="1"/>
<circle cx="236.4" cy="607.8" r="3.45" fill="#9169c4" fill-opacity="0.7" stroke="#9169c4" stroke-opacity="0.7" stroke-width="1"/>
<circle cx="247.5" cy="607.8" r="3.45" fill="#9169c4" fill-opacity="0.7" stroke="#9169c4" stroke-opacity="0.7" stroke-width="1"/>
<circle cx="258.6" cy="607.8" r="3.45" fill="#9169c4" fill-opacity="0.7" stroke="#9169c4" stroke-opacity="0.7" stroke-width="1"/>
<circle cx="269.7" cy="607.8" r="3.45" fill="#9169c4" fill-opacity="0.7" stroke="#9169c4" stroke-opacity="0.7" stroke-width="1"/>
<circle cx="291.9" cy="607.8" r="3.45" fill="#9169c4" fill-opacity="0.7" stroke="#9169c4" stroke-opacity="0.7" stroke-width="1"/>
<circle cx="303" cy="607.8" r="3.45" fill="#9169c4" fill-opacity="0.7" stroke="#9169c4" stroke-opacity="0.7" stroke-width="1"/>
<circle cx="314.1" cy="607.8" r="3.45" fill="#9169c4" fill-opacity="0.7" stroke="#9169c4" stroke-opacity="0.7" stroke-width="1"/>
<circle cx="325.2" cy="607.8" r="3.45" fill="#9169c4" fill-opacity="0.7" stroke="#9169c4" stroke-opacity="0.7" stroke-width="1"/>
<circle cx="336.3" cy="607.8" r="3.45" fill="#9169c4" fill-opacity="0.7" stroke="#9169c4" stroke-opacity="0.7" stroke-width="1"/>
<circle cx="347.4" cy="560.69" r="3.45" fill="#9169c4" fill-opacity="0.7" stroke="#9169c4" stroke-opacity="0.7" stroke-width="1"/>
<circle cx="358.5" cy="607.8" r="3.45" fill="#9169c4" fill-opacity="0.7" stroke="#9169c4" stroke-opacity="0.7" stroke-width="1"/>
<circle cx="369.6" cy="577.91" r="3.45" fill="#9169c4" fill-opacity="0.7" stroke="#9169c4" stroke-opacity="0.7" stroke-width="1"/>
<circle cx="380.7" cy="577.91" r="3.45" fill="#9169c4" fill-opacity="0.7" stroke="#9169c4" stroke-opacity="0.7" stroke-width="1"/>
<circle cx="391.8" cy="607.8" r="3.45" fill="#9169c4" fill-opacity="0.7" stroke="#9169c4" stroke-opacity="0.7" stroke-width="1"/>
<circle cx="402.9" cy="577.91" r="3.45" fill="#9169c4" fill-opacity="0.7" stroke="#9169c4" stroke-opacity="0.7" stroke-width="1"/>
<circle cx="414" cy="563.82" r="3.45" fill="#9169c4" fill-opacity="0.7" stroke="#9169c4" stroke-opacity="0.7" stroke-width="1"/>
<circle cx="425.1" cy="607.8" r="3.45" fill="#9169c4" fill-opacity="0.7" stroke="#9169c4" stroke-opacity="0.7" stroke-width="1"/>
<circle cx="436.2" cy="516.47" r="3.45" fill="#9169c4" fill-opacity="0.7" stroke="#9169c4" stroke-opacity="0.7" stroke-width="1"/>
<circle cx="447.3" cy="563.82" r="3.45" fill="#9169c4" fill-opacity="0.7" stroke="#9169c4" stroke-opacity="0.7" stroke-width="1"/>
<circle cx="458.4" cy="607.8" r="3.45" fill="#9169c4" fill-opacity="0.7" stroke="#9169c4" stroke-opacity="0.7" stroke-width="1"/>
<circle cx="469.5" cy="607.8" r="3.45" fill="#9169c4" fill-opacity="0.7" stroke="#9169c4" stroke-opacity="0.7" stroke-width="1"/>
<circle cx="480.6" cy="595.14" r="3.45" fill="#9169c4" fill-opacity="0.7" stroke="#9169c4" stroke-opacity="0.7" stroke-width="1"/>
<circle cx="491.7" cy="560.82" r="3.45" fill="#9169c4" fill-opacity="0.7" stroke="#9169c4" stroke-opacity="0.7" stroke-width="1"/>
<circle cx="502.8" cy="607.8" r="3.45" fill="#9169c4" fill-opacity="0.7" stroke="#9169c4" stroke-opacity="0.7" stroke-width="1"/>
<circle cx="513.9" cy="607.8" r="3.45" fill="#9169c4" fill-opacity="0.7" stroke="#9169c4" stroke-opacity="0.7" stroke-width="1"/>
<circle cx="525" cy="557.49" r="3.45" fill="#9169c4" fill-opacity="0.7" stroke="#9169c4" stroke-opacity="0.7" stroke-width="1"/>
<circle cx="536.1" cy="607.8" r="3.45" fill="#9169c4" fill-opacity="0.7" stroke="#9169c4" stroke-opacity="0.7" stroke-width="1"/>
<circle cx="547.2" cy="500.71" r="3.45" fill="#9169c4" fill-opacity="0.7" stroke="#9169c4" stroke-opacity="0.7" stroke-width="1"/>
<line x1="69.9" y1="607.8" x2="136.5" y2="607.8" stroke="#2b62ad" stroke-width="1.5"/>
<line x1="69.9" y1="490.26" x2="136.5" y2="559.74" stroke="#f2641c" stroke-width="1.6" stroke-dasharray="5.7 2.5"/>
<line x1="69.9" y1="555.97" x2="136.5" y2="557" stroke="#9058c6" stroke-width="1.6" stroke-dasharray="9.8 2.5 1.5 2.5"/>
<line x1="158.7" y1="612.03" x2="269.7" y2="568.13" stroke="#2b62ad" stroke-width="1.5"/>
<line x1="158.7" y1="507.5" x2="269.7" y2="514.52" stroke="#f2641c" stroke-width="1.6" stroke-dasharray="5.7 2.5"/>
<line x1="158.7" y1="571.84" x2="269.7" y2="605.66" stroke="#9058c6" stroke-width="1.6" stroke-dasharray="9.8 2.5 1.5 2.5"/>
<line x1="291.9" y1="556.19" x2="547.2" y2="576.84" stroke="#2b62ad" stroke-width="1.5"/>
<line x1="291.9" y1="510.61" x2="547.2" y2="495.58" stroke="#f2641c" stroke-width="1.6" stroke-dasharray="5.7 2.5"/>
<line x1="291.9" y1="602.78" x2="547.2" y2="568.39" stroke="#9058c6" stroke-width="1.6" stroke-dasharray="9.8 2.5 1.5 2.5"/>
<text x="156.9" y="414.8" font-size="11">1</text>
<text x="163.6" y="410.9" font-size="7.4" font-style="italic" textLength="6.6" lengthAdjust="spacingAndGlyphs">st</text>
<text x="174.2" y="414.8" font-size="11" textLength="38.3" lengthAdjust="spacingAndGlyphs">prompt</text>
<text x="160.1" y="427" font-size="11" textLength="38.2" lengthAdjust="spacingAndGlyphs">change</text>
<text x="288.6" y="414.8" font-size="11">2</text>
<text x="294.4" y="410.9" font-size="7.4" font-style="italic" textLength="10.4" lengthAdjust="spacingAndGlyphs">nd</text>
<text x="308.1" y="414.8" font-size="11" textLength="38.3" lengthAdjust="spacingAndGlyphs">prompt</text>
<text x="291.7" y="427" font-size="11" textLength="38.2" lengthAdjust="spacingAndGlyphs">change</text>
<polyline points="46.1,393.95 46.1,622 571,622 571,393.95" fill="none" stroke="#111" stroke-width="0.9" stroke-linejoin="miter"/>
<line x1="42.5" y1="607.8" x2="46.1" y2="607.8" stroke="#222" stroke-width="0.9"/>
<text x="39.2" y="612.1" text-anchor="end" font-size="11" textLength="17.17" lengthAdjust="spacingAndGlyphs">0.0</text>
<line x1="42.5" y1="574.48" x2="46.1" y2="574.48" stroke="#222" stroke-width="0.9"/>
<text x="39.2" y="578.78" text-anchor="end" font-size="11" textLength="17.17" lengthAdjust="spacingAndGlyphs">0.1</text>
<line x1="42.5" y1="541.16" x2="46.1" y2="541.16" stroke="#222" stroke-width="0.9"/>
<text x="39.2" y="545.46" text-anchor="end" font-size="11" textLength="17.17" lengthAdjust="spacingAndGlyphs">0.2</text>
<line x1="42.5" y1="507.84" x2="46.1" y2="507.84" stroke="#222" stroke-width="0.9"/>
<text x="39.2" y="512.14" text-anchor="end" font-size="11" textLength="17.17" lengthAdjust="spacingAndGlyphs">0.3</text>
<line x1="42.5" y1="474.52" x2="46.1" y2="474.52" stroke="#222" stroke-width="0.9"/>
<text x="39.2" y="478.82" text-anchor="end" font-size="11" textLength="17.17" lengthAdjust="spacingAndGlyphs">0.4</text>
<line x1="42.5" y1="441.2" x2="46.1" y2="441.2" stroke="#222" stroke-width="0.9"/>
<text x="39.2" y="445.5" text-anchor="end" font-size="11" textLength="17.17" lengthAdjust="spacingAndGlyphs">0.5</text>
<line x1="42.5" y1="407.88" x2="46.1" y2="407.88" stroke="#222" stroke-width="0.9"/>
<text x="39.2" y="412.18" text-anchor="end" font-size="11" textLength="17.17" lengthAdjust="spacingAndGlyphs">0.6</text>
<line x1="47.5" y1="622" x2="47.5" y2="625.6" stroke="#222" stroke-width="0.9"/>
<text x="47.5" y="652.65" text-anchor="middle" font-size="10.7" textLength="44.6" lengthAdjust="spacingAndGlyphs" transform="rotate(-45 47.5 648.8)">2023-10</text>
<line x1="96.71" y1="622" x2="96.71" y2="625.6" stroke="#222" stroke-width="0.9"/>
<text x="96.71" y="652.65" text-anchor="middle" font-size="10.7" textLength="44.6" lengthAdjust="spacingAndGlyphs" transform="rotate(-45 96.71 648.8)">2023-11</text>
<line x1="144.34" y1="622" x2="144.34" y2="625.6" stroke="#222" stroke-width="0.9"/>
<text x="144.34" y="652.65" text-anchor="middle" font-size="10.7" textLength="44.6" lengthAdjust="spacingAndGlyphs" transform="rotate(-45 144.34 648.8)">2023-12</text>
<line x1="193.55" y1="622" x2="193.55" y2="625.6" stroke="#222" stroke-width="0.9"/>
<text x="193.55" y="652.65" text-anchor="middle" font-size="10.7" textLength="44.6" lengthAdjust="spacingAndGlyphs" transform="rotate(-45 193.55 648.8)">2024-01</text>
<line x1="242.76" y1="622" x2="242.76" y2="625.6" stroke="#222" stroke-width="0.9"/>
<text x="242.76" y="652.65" text-anchor="middle" font-size="10.7" textLength="44.6" lengthAdjust="spacingAndGlyphs" transform="rotate(-45 242.76 648.8)">2024-02</text>
<line x1="288.8" y1="622" x2="288.8" y2="625.6" stroke="#222" stroke-width="0.9"/>
<text x="288.8" y="652.65" text-anchor="middle" font-size="10.7" textLength="44.6" lengthAdjust="spacingAndGlyphs" transform="rotate(-45 288.8 648.8)">2024-03</text>
<line x1="338.01" y1="622" x2="338.01" y2="625.6" stroke="#222" stroke-width="0.9"/>
<text x="338.01" y="652.65" text-anchor="middle" font-size="10.7" textLength="44.6" lengthAdjust="spacingAndGlyphs" transform="rotate(-45 338.01 648.8)">2024-04</text>
<line x1="385.64" y1="622" x2="385.64" y2="625.6" stroke="#222" stroke-width="0.9"/>
<text x="385.64" y="652.65" text-anchor="middle" font-size="10.7" textLength="44.6" lengthAdjust="spacingAndGlyphs" transform="rotate(-45 385.64 648.8)">2024-05</text>
<line x1="434.85" y1="622" x2="434.85" y2="625.6" stroke="#222" stroke-width="0.9"/>
<text x="434.85" y="652.65" text-anchor="middle" font-size="10.7" textLength="44.6" lengthAdjust="spacingAndGlyphs" transform="rotate(-45 434.85 648.8)">2024-06</text>
<line x1="482.47" y1="622" x2="482.47" y2="625.6" stroke="#222" stroke-width="0.9"/>
<text x="482.47" y="652.65" text-anchor="middle" font-size="10.7" textLength="44.6" lengthAdjust="spacingAndGlyphs" transform="rotate(-45 482.47 648.8)">2024-07</text>
<line x1="531.69" y1="622" x2="531.69" y2="625.6" stroke="#222" stroke-width="0.9"/>
<text x="531.69" y="652.65" text-anchor="middle" font-size="10.7" textLength="44.6" lengthAdjust="spacingAndGlyphs" transform="rotate(-45 531.69 648.8)">2024-08</text>
<text x="308.4" y="683" text-anchor="middle" style="stroke:none" font-size="14.6" textLength="35.5" lengthAdjust="spacingAndGlyphs">Time</text>
<text transform="translate(14.6 507.4) rotate(-90)" text-anchor="middle" style="stroke:none" font-size="15.2" textLength="107.5" lengthAdjust="spacingAndGlyphs">Utilization rate</text>
<rect x="135.8" y="359.6" width="345.1" height="32.8" rx="1.5" fill="#fff" fill-opacity="0.8" stroke="#dadada" stroke-width="0.9"/>
<text x="308.4" y="372.2" text-anchor="middle" font-size="10.4" textLength="69.8" lengthAdjust="spacingAndGlyphs">Provider type</text>
<circle cx="150.5" cy="384.3" r="3.45" fill="#307eb0" fill-opacity="0.7" stroke="#307eb0" stroke-opacity="0.7" stroke-width="1"/>
<text x="168.9" y="387.6" font-size="10.4" textLength="48.6" lengthAdjust="spacingAndGlyphs">Physician</text>
<circle cx="249.5" cy="384.3" r="3.45" fill="#e57710" fill-opacity="0.7" stroke="#e57710" stroke-opacity="0.7" stroke-width="1"/>
<text x="268.6" y="387.6" font-size="10.4" textLength="76.4" lengthAdjust="spacingAndGlyphs">Admin support</text>
<circle cx="377" cy="384.3" r="3.45" fill="#9169c4" fill-opacity="0.7" stroke="#9169c4" stroke-opacity="0.7" stroke-width="1"/>
<text x="395.6" y="387.6" font-size="10.4" textLength="80.9" lengthAdjust="spacingAndGlyphs">Clinical support</text>
<line x1="45.65" y1="394.4" x2="571.45" y2="394.4" stroke="#111" stroke-width="0.9"/>
</svg>
</body></html>
